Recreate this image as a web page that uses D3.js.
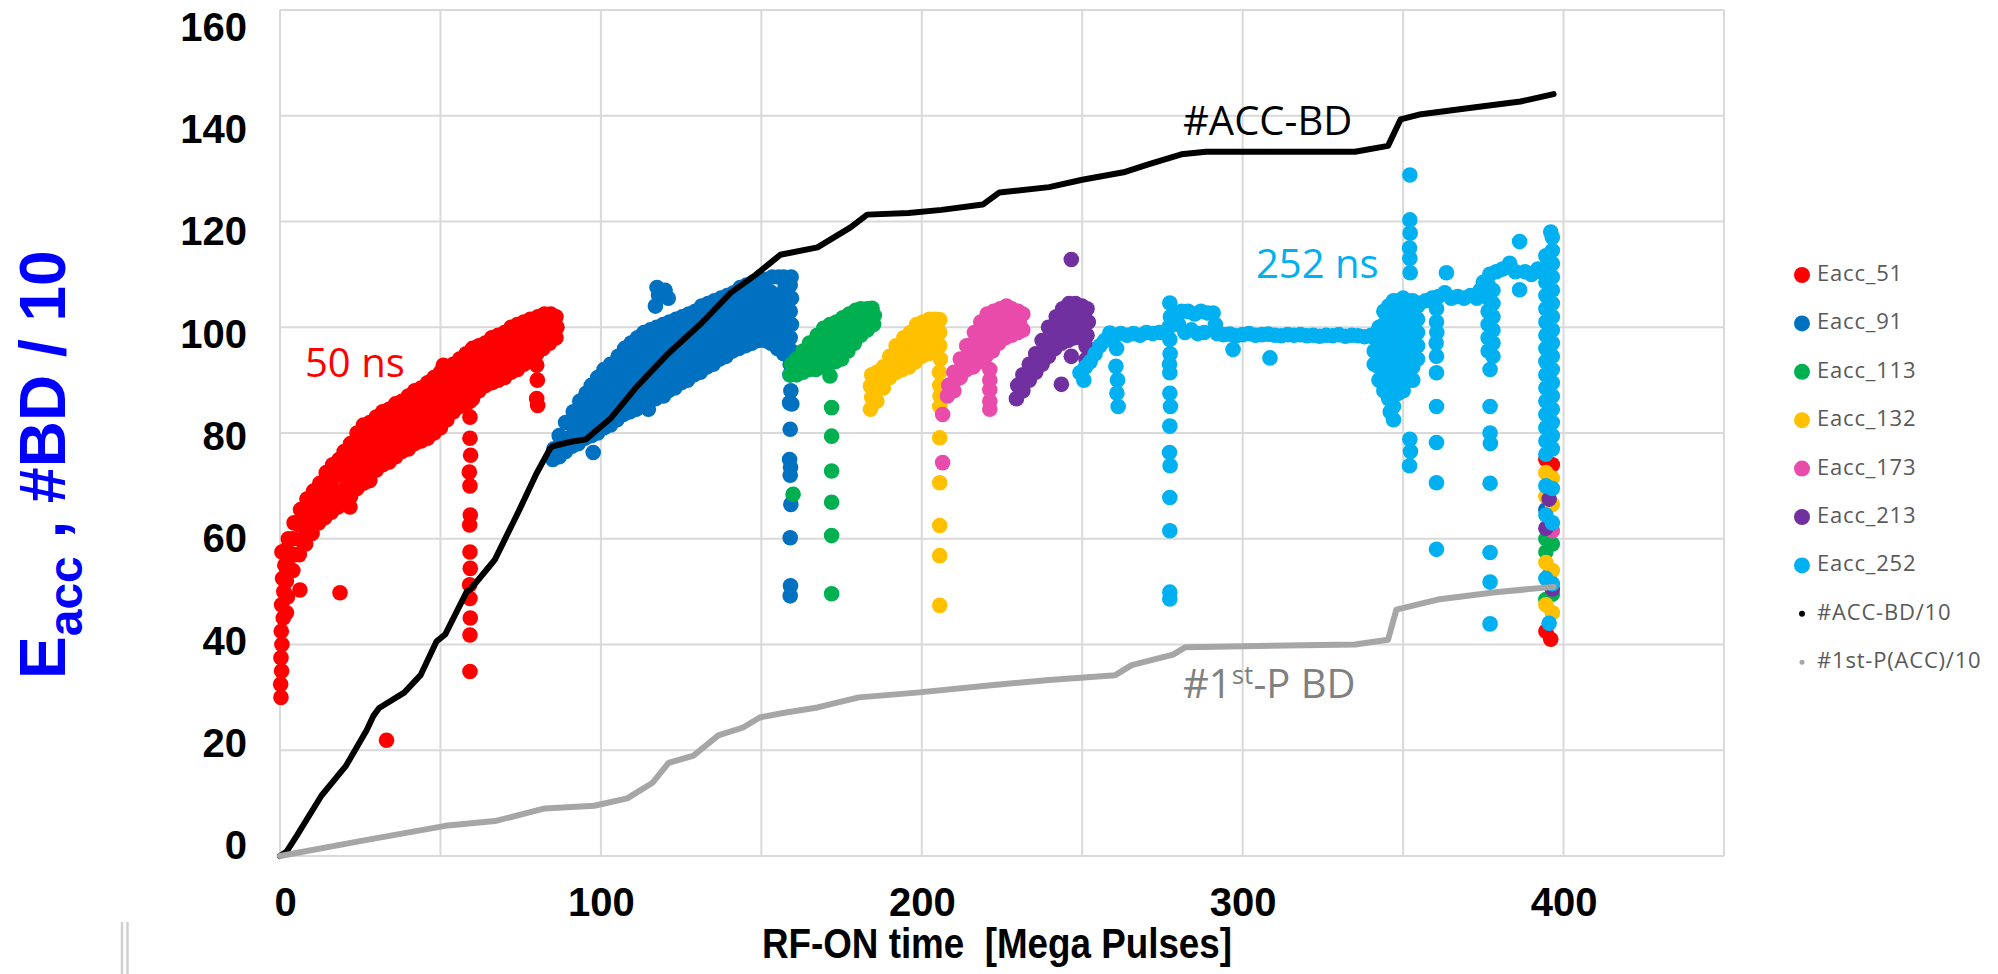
<!DOCTYPE html>
<html>
<head>
<meta charset="utf-8">
<script src="https://cdn.jsdelivr.net/npm/d3@7"></script>
<style>
  body { margin: 0; background: #fff; }
  svg { display: block; }
</style>
</head>
<body>
<figure id="chart" style="margin:0"></figure>
<script>
// tick labels
const xTicks = [0, 100, 200, 300, 400];
const yTicks = [0, 20, 40, 60, 80, 100, 120, 140, 160];

const seriesNames = ["Eacc_51", "Eacc_91", "Eacc_113", "Eacc_132", "Eacc_173", "Eacc_213", "Eacc_252", "#ACC-BD/10", "#1st-P(ACC)/10"];
const seriesColors = ["#ff0000", "#0070c0", "#00b050", "#ffc000", "#e94bab", "#7030a0", "#00b0f0", "#000000", "#a6a6a6"];

// [RF-ON time, Eacc]
const eacc51 = [
  [0.3,30],[0.2,32.5],[0.5,35],[0.3,37.5],[0.6,40],[0.4,42.5],[1,45],[0.5,47.5],[1.2,50],[0.8,52.5],[1.5,55],[0.6,57.5],
  [2,46],[2.3,49],[2,52],[2.4,55],[2,58],[2.6,60],
  [4,54],[4.3,57],[4,60],[4.4,63],
  [6,57],[6.3,59.8],[6,62.6],[6.4,65.5],
  [8,59],[8.3,61.8],[8,64.6],[8.4,67.5],
  [10,61],[10.3,63.7],[10,66.4],[10.4,69],
  [12,63],[12.3,65.5],[12,68],[12.4,70.5],
  [14,64],[14.3,66.8],[14,69.6],[14.4,72.5],
  [16,65],[16.3,68],[16,71],[16.4,74],
  [18,66],[18.3,69],[18,72],[18.4,75],
  [20,67],[20.3,69.4],[20,71.8],[20.4,74.2],[20,76.5],
  [22,68],[22.3,70.5],[22,73],[22.4,75.5],[22,78],
  [24,69.5],[24.3,72.1],[24,74.7],[24.4,77.3],[24,80],
  [26,70.5],[26.3,73.2],[26,76],[26.4,78.7],[26,81.5],
  [28,71],[28.3,73.8],[28,76.5],[28.4,79.2],[28,82],
  [30,73],[30.3,75.5],[30,78],[30.4,80.5],[30,83],
  [32,74],[32.3,76.5],[32,79],[32.4,81.5],[32,84],
  [34,74.5],[34.3,77],[34,79.5],[34.4,82],[34,84.5],
  [36,75.5],[36.3,78],[36,80.5],[36.4,83],[36,85.5],
  [38,76.5],[38.3,78.9],[38,81.3],[38.4,83.7],[38,86],
  [40,77],[40.3,79.5],[40,82],[40.4,84.5],[40,87],
  [42,78],[42.3,80.5],[42,83],[42.4,85.5],[42,88],
  [44,78.5],[44.3,81],[44,83.5],[44.4,86],[44,88.5],
  [46,79],[46.3,81.6],[46,84.2],[46.4,86.8],[46,89.5],
  [48,80],[48.3,82.6],[48,85.2],[48.4,87.8],[48,90.5],
  [50,81],[50.3,83.6],[50,86.2],[50.4,88.8],[50,91.5],[50.9,92.8],
  [52,82.5],[52.3,84.9],[52,87.3],[52.4,89.7],[52,92],
  [54,84],[54.3,86.3],[54,88.6],[54.4,90.9],[54,93],
  [56,85],[56.3,87.3],[56,89.6],[56.4,91.9],[56,94],
  [58,85.5],[58.3,87.9],[58,90.3],[58.4,92.7],[58,95],
  [60,86.5],[60.3,88.9],[60,91.3],[60.4,93.7],[60,96],
  [62,88],[62.3,90.2],[62,92.4],[62.4,94.6],[62,96.5],
  [64,89],[64.3,91],[64,93],[64.4,95],[64,97],
  [66,89.5],[66.3,91.7],[66,93.9],[66.4,96.1],[66,98],
  [68,90],[68.3,92.2],[68,94.4],[68.4,96.6],[68,98.5],
  [70,90.5],[70.3,92.7],[70,94.9],[70.4,97.1],[70,99],
  [72,91.5],[72.3,93.7],[72,95.9],[72.4,98.1],[72,100],
  [74,92],[74.3,94.2],[74,96.4],[74.4,98.6],[74,100.5],
  [76,93],[76.3,95.1],[76,97.2],[76.4,99.3],[76,101],
  [78,94],[78.3,96],[78,98],[78.4,100],[78,101.5],
  [80,95],[80.3,97.4],[80,99.8],[80.4,102],
  [82,96],[82.3,98.3],[82,100.6],[82.4,102.5],
  [84,97],[84.3,99],[84,101],[84.4,102.5],
  [86,98],[86.3,100],[86,102],
  [6.2,50.3],[18.7,49.8],[33.2,21.9],[21.8,66],
  [59.2,86],[59.2,83],[59.2,79],[59.4,75.8],[59,72.6],[59.2,70],[59.3,64.5],[59.1,62.6],[59.2,57.5],[59.3,54.4],
  [59.1,51.3],[59.2,48.7],[59.3,45],[59.2,41.8],[59.2,34.9],
  [80,92.8],[80.2,90],[80,86.5],[80.3,85.2],
  [394.5,75],[396.5,74],[394.5,42.5],[396,41]
];

const eacc91 = [
  [85,75],[85.4,77],
  [87,75.5],[87.4,77.5],[87,79.5],
  [89,76.5],[89.4,79],[89,82],
  [91,77.5],[91.4,79.7],[91,81.9],[91.4,84],
  [93,78],[93.4,80.7],[93,83.4],[93.4,86],
  [95,79],[95.4,81.8],[95,84.6],[95.4,87.5],
  [97,79.5],[97.4,81.9],[97,84.3],[97.4,86.7],[97,89],
  [99,80],[99.4,82.6],[99,85.2],[99.4,87.8],[99,90.5],
  [101,81],[101.4,83.7],[101,86.4],[101.4,89.1],[101,92],
  [103,81.5],[103.4,84.4],[103,87.3],[103.4,90.2],[103,93],
  [105,82.5],[105.4,85],[105,87.5],[105.4,90],[105,92.5],[105.4,94.5],
  [107,83.5],[107.4,86],[107,88.5],[107.4,91],[107,93.5],[107.4,96],
  [109,84],[109.4,86.6],[109,89.2],[109.4,91.8],[109,94.4],[109.4,97],
  [111,84.5],[111.4,87.2],[111,89.9],[111.4,92.6],[111,95.3],[111.4,98],
  [113,85.5],[113.4,88.2],[113,90.9],[113.4,93.6],[113,96.3],[113.4,99],
  [115,86],[115.4,88.7],[115,91.4],[115.4,94.1],[115,96.8],[115.4,99.5],
  [117,86.5],[117.4,89.2],[117,91.9],[117.4,94.6],[117,97.3],[117.4,100],
  [119,87.5],[119.4,90.1],[119,92.7],[119.4,95.3],[119,97.9],[119.4,100.5],
  [121,88],[121.4,90.6],[121,93.2],[121.4,95.8],[121,98.4],[121.4,101],
  [123,88.5],[123.4,91.1],[123,93.7],[123.4,96.3],[123,98.9],[123.4,101.5],
  [125,89.5],[125.4,92],[125,94.5],[125.4,97],[125,99.5],[125.4,102],
  [127,90],[127.4,92.5],[127,95],[127.4,97.5],[127,100],[127.4,102.5],
  [129,91],[129.4,93.4],[129,95.8],[129.4,98.2],[129,100.6],[129.4,103],
  [131,91.5],[131.4,94],[131,96.5],[131.4,99],[131,101.5],[131.4,104],
  [133,92.5],[133.4,94.9],[133,97.3],[133.4,99.7],[133,102.1],[133.4,104.5],
  [135,93],[135.4,95.4],[135,97.8],[135.4,100.2],[135,102.6],[135.4,105],
  [137,94],[137.4,96.3],[137,98.6],[137.4,100.9],[137,103.2],[137.4,105.5],
  [139,94.5],[139.4,96.8],[139,99.1],[139.4,101.4],[139,103.7],[139.4,106],
  [141,95.5],[141.4,97.7],[141,99.9],[141.4,102.1],[141,104.3],[141.4,106.5],
  [143,96],[143.4,98.3],[143,100.6],[143.4,102.9],[143,105.2],[143.4,107.5],
  [145,96.5],[145.4,98.8],[145,101.1],[145.4,103.4],[145,105.7],[145.4,108],
  [147,97],[147.4,99.3],[147,101.6],[147.4,103.9],[147,106.2],[147.4,108.5],
  [149,97.5],[149.4,99.7],[149,101.9],[149.4,104.1],[149,106.3],[149.4,108.5],
  [151,97.5],[151.4,99.8],[151,102.1],[151.4,104.4],[151,106.7],[151.4,109],
  [153,97],[153.4,99.4],[153,101.8],[153.4,104.2],[153,106.6],[153.4,109.5],
  [155,96],[155.4,98.5],[155,101],[155.4,103.5],[155,106],[155.4,109.5],
  [157,95],[157.4,97.5],[157,100],[157.4,102.5],[157,105],[157.4,107.5],[157,109.5],
  [159,93],[159.4,95.5],[159,98],[159.4,100.5],[159,103],[159.4,105.5],[159,108],[159.3,109.5],
  [117,104],[118,106],[117.5,107.5],[121,105.5],[120,107],
  [97.6,76.3],[114.8,84.5],[130.9,92],[119.5,87],
  [158.9,91],[159.2,88],[158.8,85.7],[159.5,85.5],[159,80.7],[158.8,75],[159.1,73.5],[159,72],[159.2,66.5],[159,60.2],[159.1,51.1],[159,49.2],
  [395.5,53],[394.5,65.5]
];

const eacc113 = [
  [159,91],[159.4,93],
  [161,91],[161.4,93],[161,94],
  [163,91.5],[163.4,93.5],[163,95.5],
  [165,92],[165.4,94.5],[165,97],
  [167,92],[167.4,94.2],[167,96.4],[167.4,98.5],
  [169,92.5],[169.4,94.9],[169,97.3],[169.4,99.8],
  [171,93],[171.4,95.5],[171,98],[171.4,100.5],
  [173,93.5],[173.4,96],[173,98.5],[173.4,101],
  [175,94],[175.4,96.6],[175,99.2],[175.4,101.8],
  [177,95.5],[177.4,97.8],[177,100.1],[177.4,102.5],
  [179,97],[179.4,99.1],[179,101.2],[179.4,103.2],
  [181,98.5],[181.4,101],[181,103.5],
  [183,99.5],[183.4,101.5],[183,103.5],
  [185,100.5],[185.2,102.2],[184.5,103.6],
  [171.4,90.8],
  [171.9,84.8],[171.9,79.4],[171.9,72.8],[171.9,66.9],[171.9,60.6],[171.9,49.6],[159.9,68.4],
  [394.5,60],[396.5,59],[394.5,57.5],[396.5,49.5],[394.5,48.5]
];

const eacc132 = [
  [184,84.5],[184.4,86.7],[184,88.9],[184.4,91],
  [186,86],[186.4,88.7],[186,91.5],
  [188,88.5],[188.4,90.5],[188,92.5],
  [190,90.5],[190.4,92.5],[190,94.5],
  [192,91.5],[192.4,94],[192,96.5],
  [194,92],[194.4,94],[194,96],[194.4,98],
  [196,92.5],[196.4,94.7],[196,96.9],[196.4,99],
  [198,93.5],[198.4,95.8],[198,98.1],[198.4,100.5],
  [200,94.5],[200.4,96.7],[200,98.9],[200.4,101],
  [202,95],[202.4,97.2],[202,99.4],[202.4,101.5],
  [204,95.5],[204.4,97.5],[204,99.5],[204.4,101.5],
  [205.6,101.4],[205.6,99],[205.6,96.5],[205.8,94],[205.5,91.5],[205.6,89],[205.7,87],[205.6,85],
  [205.6,79.1],[205.6,70.6],[205.6,62.5],[205.6,56.8],[205.6,47.4],
  [394.5,72.5],[396.5,71.5],[394.5,68],[396.5,66.5],[394.5,55.5],[396.5,54],[394.5,47.5],[396.5,46]
];

const eacc173 = [
  [208,87],[208.4,89],
  [210,88],[210.4,90],[210,91.5],
  [212,90.5],[212.4,92.3],[212,94],
  [214,92],[214.4,94.2],[214,96.5],
  [216,92.5],[216.4,94.7],[216,96.9],[216.4,99],
  [218,93.5],[218.4,96],[218,98.5],[218.4,101],
  [220,94.5],[220.4,97.2],[220,99.9],[220.4,102.5],
  [222,95.5],[222.4,98],[222,100.5],[222.4,103],
  [224,97],[224.4,99.2],[224,101.4],[224.4,103.5],
  [226,98],[226.4,100],[226,102],[226.4,104],
  [228,98.5],[228.4,101],[228,103.5],
  [230,99],[230.4,101],[230,103],
  [231.5,99.5],[231.5,102.5],
  [221.2,92],[221.2,90],[221.2,88.2],[221.2,86],[221.2,84.5],
  [206.5,83.5],[206.5,74.4],
  [396.5,61.5]
];

const eacc213 = [
  [229.5,86.5],[229.9,89],
  [231.5,88],[231.9,89.5],[231.5,91],
  [233.5,90],[233.9,91.5],[233.5,93],
  [235.5,91.5],[235.9,93.3],[235.5,95],
  [237.5,93],[237.9,95.2],[237.5,97.5],
  [239.5,94.5],[239.9,97.2],[239.5,100],
  [241.5,96],[241.9,98],[241.5,100],[241.9,102],
  [243.5,97],[243.9,99.2],[243.5,101.4],[243.9,103.5],
  [245.5,97.5],[245.9,99.8],[245.5,102.1],[245.9,104.5],
  [247.5,98],[247.9,100.2],[247.5,102.4],[247.9,104.5],
  [249.5,98],[249.9,100],[249.5,102],[249.9,104],
  [251.5,98.5],[251.9,101],[251.5,103.5],
  [246.6,112.8],[243.5,89.2],[246.6,94.5],[251.2,96.4],[251.2,93.9],
  [395.5,67.5],[394.5,62],[396.5,50.5]
];

const eacc252 = [
  [249.3,91.4],[250.5,90],[251,92.5],[252.5,93.5],[254,95],[255.5,96.5],[257,97.5],[258.6,98.9],[260,98.5],[262,98.8],
  [264,98.5],[266,98.8],[268,98.5],[270,99],[272,98.8],[274,99],
  [260.7,96],[260.5,92.6],[261,90],[260.8,87.5],[261.2,85],
  [277.3,104.6],[277.5,102],[277,100],[277.3,97.7],[277.4,95],[277.2,93],[277.3,91.4],[277.3,87.5],[277.5,85],[277.3,81.3],
  [277.2,76.3],[277.4,73.8],[277.3,67.8],[277.3,61.5],[277.3,49.9],[277.3,48.6],
  [279,102.5],[281,103],[283,103],[285,102.5],[287,103],[289,102.7],[290.8,102.7],[291.5,100.5],[292,98.8],
  [280,100.5],[282,99],[284,99.5],[286,98.8],[288,99],[294,98.6],[296,98.7],[298,98.4],[300,98.6],[302,98.8],
  [304,98.5],[306,98.6],[308,98.7],[310,98.5],[312,98.4],[314,98.6],[316,98.5],[318,98.6],[320,98.4],[322,98.5],
  [324,98.3],[326,98.5],[328,98.4],[330,98.6],[332,98.3],[334,98.5],[336,98.4],[338,98.2],[340,98.5],
  [297,95.8],[308.5,94.2],
  [341,98],[341,95.5],[341,93],
  [342.5,100],[342.5,97.5],[342.5,95],[342.5,92.5],[342.5,90],
  [344,103],[344,100.5],[344,98],[344,95.5],[344,93],[344,90.5],[344,88],
  [345.5,104],[345.5,101.5],[345.5,99],[345.5,96.5],[345.5,94],[345.5,91.5],[345.5,89],[345.5,86.5],
  [347,105],[347,102.5],[347,100],[347,97.5],[347,95],[347,92.5],[347,90],[347,87.5],[347,85],
  [348.5,105],[348.5,102.5],[348.5,100],[348.5,97.5],[348.5,95],[348.5,92.5],[348.5,90],[348.5,87.5],
  [350,105.5],[350,103],[350,100.5],[350,98],[350,95.5],[350,93],[350,90.5],[350,88],
  [351.5,105],[351.5,102.5],[351.5,100],[351.5,97.5],[351.5,95],[351.5,92.5],[351.5,90],
  [353,105],[353,102.5],[353,100],[353,97.5],[353,95],[353,92.5],[353,90],
  [354.5,104],[354.5,101.5],[354.5,99],[354.5,96.5],[354.5,94],
  [346,84],[347,82.5],[352.1,78.8],[352.3,76.5],[352,73.8],
  [352.1,128.8],[352.1,120.3],[352.2,117.8],[352,115],[352.1,113],[352.2,110.3],
  [355,104.5],[357,105],[359,105.5],[361,105.8],[363.5,110.3],[363,106.5],[365,105.5],[367,105.8],[369,105.5],[371,106],
  [373,105.5],[374,107],
  [375,108.5],[377,110],[379,110.5],[381,111],[383.2,112.1],[385,110.5],[386.3,116.2],[386.3,107.1],[388,110.5],[390,110],
  [392,111],[393,110.5],
  [360.4,103.5],[360.4,101],[360.5,99],[360.3,97],[360.4,94.5],[360.4,91.4],[360.4,85],[360.4,78.2],[360.4,70.6],[360.4,58],
  [376.5,108],[378,107],[376.5,105.5],[378,104.5],[376.5,103],[378,102],[376.5,100.5],[378,99.5],[376.5,98],[378,97],
  [376.5,95.5],[378,94.5],[377.1,92],[377.1,85],[377.1,80],[377.2,78],
  [377.1,70.5],[377.1,57.4],[377.1,51.8],[377.1,43.9],
  [394.5,76],[394.5,78.5],[394.5,81],[394.5,83.5],[394.5,86],[394.5,88.5],[394.5,91],[394.5,93.5],[394.5,96],[394.5,98.5],
  [394.5,101],[394.5,103.5],[394.5,106],[394.5,108.5],[394.5,111],[394.5,113.5],
  [396.5,77],[396.5,79.5],[396.5,82],[396.5,84.5],[396.5,87],[396.5,89.5],[396.5,92],[396.5,94.5],[396.5,97],[396.5,99.5],
  [396.5,102],[396.5,104.5],[396.5,107],[396.5,109.5],[396.5,112],[396.5,114.5],[396.5,117],[396,118],
  [394.5,70],[396.5,69.5],[394.5,64.5],[396.5,63],[394.5,52.5],[396.5,51.5],[395.5,44]
];

// cumulative breakdown counts / 10
const accBD = [
  [0,0],[2,0.8],[5.2,3.8],[12.9,11.4],[20.6,17.1],[27,23.8],[29.1,26.5],[30.9,28],[38.7,30.9],[43.8,34.2],
  [48.8,40.6],[51.5,41.9],[58.2,50],[59.3,50.4],[66.5,55.7],[67,56.1],[74.7,65.6],[79.9,72.3],[84.1,77],[85,77.5],
  [90.3,78.3],[95.3,78.8],[103.1,82.8],[110.8,88.5],[121.1,95.1],[131.4,100.8],[140.4,106.5],[148.2,109.9],[155.9,113.7],[167.5,115.1],
  [177.8,118.9],[183,121.3],[195.9,121.6],[206.2,122.2],[219,123.2],[224.2,125.5],[239.7,126.5],[250,127.9],[262.9,129.3],[270.6,130.8],
  [280.9,132.7],[288.6,133.2],[335,133.2],[345.3,134.3],[349.2,139.3],[355.6,140.3],[373.7,141.7],[386.6,142.7],[396.9,144.1]
];

const firstPBD = [
  [0,0],[25.8,2.9],[51.5,5.7],[67,6.6],[82.5,9],[97.9,9.5],[108.2,10.9],[116,13.8],[121.1,17.6],[128.9,19],
  [136.6,22.8],[144.3,24.3],[149.5,26.2],[157.2,27.1],[167.5,28.1],[180.4,30],[198.4,30.9],[221.6,32.3],[239.7,33.3],[260.3,34.2],
  [265.4,36.1],[278.3,38.1],[282.2,39.5],[335,40],[345.3,40.9],[347.9,46.6],[360.8,48.5],[378.8,49.9],[396.9,50.9]
];

const scatterSeries = [eacc51, eacc91, eacc113, eacc132, eacc173, eacc213, eacc252];

const width = 1998, height = 974;

var svg = d3.select("figure#chart")
  .append("svg")
  .attr("width", width)
  .attr("height", height)
  .style("background", "#fff");

var x = d3.scaleLinear().domain([0, 450]).range([280, 1724]);
var y = d3.scaleLinear().domain([0, 160]).range([856, 10]);
// the tick labels in the picture sit on a slightly tighter spacing than the grid
var yLabel = d3.scaleLinear().domain([0, 160]).range([846, 27.5]);

// gridlines
svg.append("g")
  .selectAll("line")
  .data(d3.range(0, 451, 50))
  .join("line")
  .attr("x1", d => x(d)).attr("x2", d => x(d))
  .attr("y1", y(0)).attr("y2", y(160))
  .attr("stroke", "#d9d9d9").attr("stroke-width", 2);

svg.append("g")
  .selectAll("line")
  .data(yTicks)
  .join("line")
  .attr("x1", x(0)).attr("x2", x(450))
  .attr("y1", d => y(d)).attr("y2", d => y(d))
  .attr("stroke", "#d9d9d9").attr("stroke-width", 2);

// axes (labels only)
var yAxis = svg.append("g")
  .attr("transform", "translate(247,0)")
  .call(d3.axisLeft(yLabel).tickValues(yTicks).tickSize(0).tickPadding(0));
yAxis.select(".domain").remove();
yAxis.selectAll("text")
  .attr("font-family", "'Liberation Sans', Arial, sans-serif")
  .attr("font-weight", "bold")
  .attr("font-size", 40)
  .attr("fill", "#000");

var xAxis = svg.append("g")
  .attr("transform", `translate(0, ${y(0)})`)
  .call(d3.axisBottom(x).tickValues(xTicks).tickSize(0).tickPadding(32));
xAxis.select(".domain").remove();
xAxis.selectAll("text")
  .attr("font-family", "'Liberation Sans', Arial, sans-serif")
  .attr("font-weight", "bold")
  .attr("font-size", 40)
  .attr("fill", "#000")
  .attr("dx", d => d === 0 ? 5 : 0);

// scatter series, drawn in legend order
scatterSeries.forEach((pts, i) => {
  svg.append("g")
    .selectAll("circle")
    .data(pts)
    .join("circle")
    .attr("cx", d => x(d[0]))
    .attr("cy", d => y(d[1]))
    .attr("r", 7.8)
    .attr("fill", seriesColors[i]);
});

// cumulative BD lines
var line = d3.line().x(d => x(d[0])).y(d => y(d[1]));
[[accBD, seriesColors[7]], [firstPBD, seriesColors[8]]].forEach(([pts, col]) => {
  svg.append("path")
    .datum(pts)
    .attr("d", line)
    .attr("fill", "none")
    .attr("stroke", col)
    .attr("stroke-width", 6)
    .attr("stroke-linejoin", "round")
    .attr("stroke-linecap", "round");
});

// annotations
const annoFont = "'Open Sans', 'Noto Sans', sans-serif";
svg.append("text").attr("x", 305).attr("y", 377)
  .attr("font-family", annoFont).attr("font-size", 40).attr("fill", "#ff0000").text("50 ns");
svg.append("text").attr("x", 1256).attr("y", 278)
  .attr("font-family", annoFont).attr("font-size", 40).attr("fill", "#00b0f0").text("252 ns");
svg.append("text").attr("x", 1183).attr("y", 135)
  .attr("font-family", annoFont).attr("font-size", 40).attr("fill", "#000").text("#ACC-BD");
var firstLbl = svg.append("text").attr("x", 1183).attr("y", 698)
  .attr("font-family", annoFont).attr("font-size", 40).attr("fill", "#808080");
firstLbl.append("tspan").text("#1");
firstLbl.append("tspan").attr("font-size", 26).attr("dy", -14).text("st");
firstLbl.append("tspan").attr("dy", 14).text("-P BD");

// y title
var yTitle = svg.append("text")
  .attr("transform", "translate(65,679) rotate(-90)")
  .attr("font-family", "'Liberation Sans', Arial, sans-serif")
  .attr("font-weight", "bold")
  .attr("font-size", 64)
  .attr("fill", "#0000ff")
  .style("white-space", "pre");
yTitle.append("tspan").text("E");
yTitle.append("tspan").attr("font-size", 48).attr("dy", 17).text("acc");
yTitle.append("tspan").attr("dy", -17).text(" , #BD / 10");

// x title
svg.append("text")
  .attr("x", 997).attr("y", 958)
  .attr("text-anchor", "middle")
  .attr("font-family", "'Liberation Sans Narrow', 'Liberation Sans', Arial, sans-serif")
  .attr("font-weight", "bold")
  .attr("font-size", 42)
  .attr("textLength", 470)
  .attr("lengthAdjust", "spacingAndGlyphs")
  .attr("fill", "#000")
  .style("white-space", "pre")
  .text("RF-ON time  [Mega Pulses]");

// legend
var legend = svg.append("g").attr("transform", "translate(1802,275)");
var rows = legend.selectAll("g")
  .data(seriesNames)
  .join("g")
  .attr("transform", (d, i) => `translate(0, ${i * 48.4})`);
rows.append("circle")
  .attr("r", (d, i) => i < 7 ? 8 : (i === 7 ? 3 : 2.5))
  .attr("fill", (d, i) => seriesColors[i]);
rows.append("text")
  .attr("x", 15).attr("y", 6)
  .attr("font-family", "'Open Sans', 'Noto Sans', sans-serif")
  .attr("font-size", 22)
  .attr("letter-spacing", 0.8)
  .attr("fill", "#595959")
  .text(d => d);

// small double rule at the lower left of the picture
svg.append("g")
  .selectAll("line")
  .data([122, 127.5])
  .join("line")
  .attr("x1", d => d).attr("x2", d => d)
  .attr("y1", 922).attr("y2", height)
  .attr("stroke", "#cfcfcf").attr("stroke-width", 2.5);
</script>
</body>
</html>
